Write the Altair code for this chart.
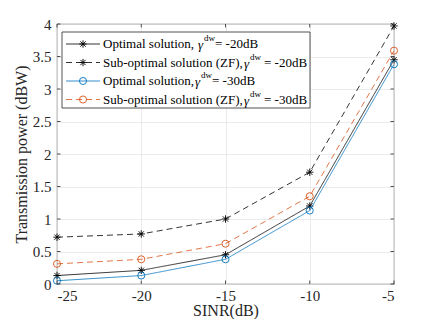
import altair as alt
import pandas as pd

# ---- data ----
sinr = [-25, -20, -15, -10, -5]
opt_20 = [0.13, 0.21, 0.45, 1.20, 3.45]
zf_20 = [0.72, 0.77, 1.00, 1.72, 3.97]
opt_30 = [0.05, 0.13, 0.38, 1.13, 3.38]
zf_30 = [0.31, 0.38, 0.62, 1.35, 3.59]

x_ticks = [-25, -20, -15, -10, -5]
y_ticks = [0, 0.5, 1, 1.5, 2, 2.5, 3, 3.5, 4]

prefixes = ["Optimal solution,", "Sub-optimal solution (ZF),", "Optimal solution,", "Sub-optimal solution (ZF),"]
suffixes = ["= -20dB", "= -20dB", "= -30dB", "= -30dB"]

FONT = "Liberation Serif"
AX = "#262626"
BLUE = "#0072BD"
ORANGE = "#D95319"
STAR = "M-1,0L1,0M0,-1L0,1M-0.72,-0.72L0.72,0.72M-0.72,0.72L0.72,-0.72"

series = [
    dict(vals=opt_20, color="black", dash=[1, 0], shape=STAR, size=55),
    dict(vals=zf_20, color="black", dash=[6, 4], shape=STAR, size=55),
    dict(vals=opt_30, color=BLUE, dash=[1, 0], shape="circle", size=50),
    dict(vals=zf_30, color=ORANGE, dash=[6, 4], shape="circle", size=50),
]

W, H = 337, 260

x_enc = alt.X(
    "sinr:Q",
    scale=alt.Scale(domain=[-25, -5], nice=False, zero=False),
    axis=alt.Axis(
        values=x_ticks, labelExpr="datum.value + ''", title="SINR(dB)",
        ticks=False, domain=False, grid=True, gridColor="#e6e6e6", gridWidth=0.8,
        labelFont=FONT, labelFontSize=15, labelColor=AX, labelPadding=4,
        titleFont=FONT, titleFontSize=16, titleFontWeight="normal", titleColor=AX,
        titleX=W / 2, titleY=26.5, titleBaseline="middle", titleAlign="center",
    ),
)
y_enc = alt.Y(
    "p:Q",
    scale=alt.Scale(domain=[0, 4], nice=False),
    axis=alt.Axis(
        values=y_ticks, labelExpr="datum.value + ''", title="Transmission power (dBW)",
        ticks=False, domain=False, grid=True, gridColor="#e6e6e6", gridWidth=0.8,
        labelFont=FONT, labelFontSize=15, labelColor=AX, labelPadding=6,
        titleFont=FONT, titleFontSize=16, titleFontWeight="normal", titleColor=AX,
        titleX=-36, titleY=H / 2, titleAngle=270, titleBaseline="middle", titleAlign="center",
    ),
)

layers = []
for s in series:
    d = pd.DataFrame({"sinr": sinr, "p": s["vals"]})
    layers.append(alt.Chart(d).mark_line(color=s["color"], strokeWidth=0.8, strokeDash=s["dash"]).encode(x=x_enc, y=y_enc))
    layers.append(alt.Chart(d).mark_point(shape=s["shape"], size=s["size"], filled=False, color=s["color"], strokeWidth=0.9, opacity=1).encode(x=x_enc, y=y_enc))

# inside tick marks (MATLAB style) on all four sides
yt = pd.DataFrame({"p": y_ticks})
xt = pd.DataFrame({"sinr": x_ticks})
tick_style = dict(color=AX, strokeWidth=0.8)
layers.append(alt.Chart(yt).mark_rule(**tick_style).encode(y=y_enc, x=alt.value(0), x2=alt.value(3.5)))
layers.append(alt.Chart(yt).mark_rule(**tick_style).encode(y=y_enc, x=alt.value(W - 3.5), x2=alt.value(W)))
layers.append(alt.Chart(xt).mark_rule(**tick_style).encode(x=x_enc, y=alt.value(H), y2=alt.value(H - 3.5)))
layers.append(alt.Chart(xt).mark_rule(**tick_style).encode(x=x_enc, y=alt.value(0), y2=alt.value(3.5)))

# ---- legend box ----
one = pd.DataFrame({"k": [0]})
layers.append(alt.Chart(one).mark_rect(fill="white", stroke=AX, strokeWidth=0.8).encode(
    x=alt.value(5), x2=alt.value(253), y=alt.value(8), y2=alt.value(84)))

row_y = [20, 38.5, 57, 75.5]
gamma_x = [141, 187, 138, 187]
dw_x = [147, 193, 144, 193]
suf_x = [158, 207, 155, 207]

for i, s in enumerate(series):
    ry = row_y[i]
    layers.append(alt.Chart(one).mark_rule(color=s["color"], strokeWidth=0.8, strokeDash=s["dash"]).encode(
        x=alt.value(9), x2=alt.value(43), y=alt.value(ry)))
    layers.append(alt.Chart(one).mark_point(shape=s["shape"], size=s["size"], filled=False, color=s["color"], strokeWidth=0.9, opacity=1).encode(
        x=alt.value(26), y=alt.value(ry)))
    layers.append(alt.Chart(one).mark_text(text=prefixes[i], font=FONT, fontSize=13, align="left", baseline="middle", color="black").encode(
        x=alt.value(46), y=alt.value(ry)))
    layers.append(alt.Chart(one).mark_text(text="γ", font=FONT, fontSize=13, fontStyle="italic", align="left", baseline="middle", color="black").encode(
        x=alt.value(gamma_x[i]), y=alt.value(ry + 1)))
    layers.append(alt.Chart(one).mark_text(text="dw", font=FONT, fontSize=9, align="left", baseline="middle", color="black").encode(
        x=alt.value(dw_x[i]), y=alt.value(ry - 6)))
    layers.append(alt.Chart(one).mark_text(text=suffixes[i], font=FONT, fontSize=13, align="left", baseline="middle", color="black").encode(
        x=alt.value(suf_x[i]), y=alt.value(ry)))

chart = alt.layer(*layers).properties(
    width=W, height=H,
    autosize=alt.AutoSizeParams(type="none"),
    padding={"left": 49, "top": 16, "right": 34, "bottom": 35},
    background="white",
).configure_view(stroke=AX, strokeWidth=0.8)

chart.save("out.html", embed_options={"renderer": "svg", "actions": False})
